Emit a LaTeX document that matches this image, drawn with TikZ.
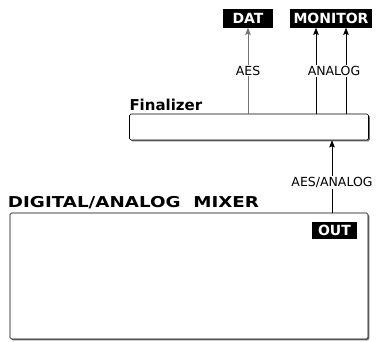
\documentclass[tikz,border=0pt]{standalone}
\usepackage{fontspec}
\setmainfont{DejaVu Sans}
\usetikzlibrary{arrows.meta,shapes,shadows}

\begin{document}
\begin{tikzpicture}[x=1pt,y=-1pt,>={Stealth[length=7pt,width=5.5pt,inset=1pt]},semithick]
        \tikzstyle{every node}=[font=\fontsize{12.5}{14}\selectfont]
        \tikzstyle{tag}=[fill=black, text=white, inner sep=0pt, minimum height=19pt,
                         font=\bfseries\fontsize{14}{16}\selectfont]
        \tikzstyle{unit}=[draw, rounded corners=1.5pt, fill=white,
                          drop shadow={shadow xshift=1.3pt, shadow yshift=-1.3pt, fill=black!55, opacity=1}]
        \tikzstyle{title}=[anchor=south west, inner sep=0pt, font=\bfseries\fontsize{15}{17}\selectfont]
        \tikzstyle{sig}=[fill=white, inner sep=1pt]

        \useasboundingbox (0,0) rectangle (379,341);

        % outputs
        \node[tag, minimum width=50pt]  (dat) at (248,18)  {DAT};
        \node[tag, minimum width=82pt]  (mon) at (331,18)  {MONITOR};

        % finalizer
        \node[unit, minimum width=239pt, minimum height=26pt] (fin) at (249,127) {};
        \node[title] (fintitle) at ([yshift=3pt]fin.north west) {Finalizer};

        % mixer
        \node[unit, minimum width=358pt, minimum height=126pt] (mix) at (189,276) {};
        \node[title] (mixtitle) at ([xshift=-2pt,yshift=4pt]mix.north west)
             {\scalebox{1.22}[1]{DIGITAL/ANALOG\ \ MIXER}};
        \node[tag, minimum width=45pt, minimum height=17pt] (out) at (334.5,230.5) {OUT};

        \coordinate (anl) at (316,0);
        \coordinate (anr) at (346,0);

        \draw[->, black!55] (fin.north -| dat) -- node[sig, text=black] {AES} (dat.south);
        \draw[->] (fin.north -| anl) -- (mon.south -| anl);
        \draw[->] (fin.north -| anr) -- (mon.south -| anr);
        \node[sig] (analog) at (334,71) {ANALOG};
        \draw[->] ([xshift=-2.5pt]mix.north -| out) -- node[sig, pos=0.42] {AES/ANALOG} ([xshift=-2.5pt]fin.south -| out);
\end{tikzpicture}
\end{document}
